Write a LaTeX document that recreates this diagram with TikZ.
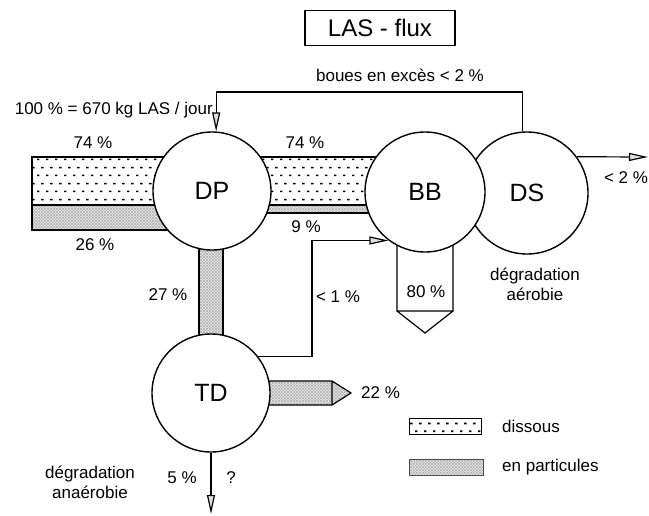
\documentclass[tikz,border=0pt]{standalone}
\usepackage{fontspec}
\setmainfont{Liberation Sans}
\usetikzlibrary{arrows.meta,patterns,calc}

% dissolved fraction: staggered rows of small dashes
\pgfdeclarepatternformonly{dissousdots}{\pgfpointorigin}{\pgfpoint{9pt}{16pt}}{\pgfpoint{9pt}{16pt}}{%
  \pgfpathrectangle{\pgfpoint{1.2pt}{3pt}}{\pgfpoint{2.6pt}{1.7pt}}%
  \pgfpathrectangle{\pgfpoint{5.7pt}{11pt}}{\pgfpoint{2.6pt}{1.7pt}}%
  \pgfusepath{fill}%
}
% particulate fraction: fine cross hatching
\pgfdeclarepatternformonly{particlehatch}{\pgfpoint{-1pt}{-1pt}}{\pgfpoint{4pt}{4pt}}{\pgfpoint{3pt}{3pt}}{%
  \pgfsetlinewidth{0.45pt}%
  \pgfpathmoveto{\pgfpoint{-0.1pt}{-0.1pt}}\pgfpathlineto{\pgfpoint{3.1pt}{3.1pt}}%
  \pgfpathmoveto{\pgfpoint{-0.1pt}{3.1pt}}\pgfpathlineto{\pgfpoint{3.1pt}{-0.1pt}}%
  \pgfusepath{stroke}%
}

\pgfdeclarelayer{background}
\pgfsetlayers{background,main}

\tikzset{
  every node/.style={font=\fontsize{17}{20}\selectfont, inner sep=0pt},
  station/.style={circle, draw, line width=1.4pt, fill=white, minimum size=#1, inner sep=0pt,
    font=\fontsize{25}{28}\selectfont},
  dissous/.style={pattern=dissousdots, pattern color=black},
  particules/.style={fill=gray!12, postaction={pattern=particlehatch, pattern color=gray!60}},
  bandline/.style={line width=1.2pt},
  flow/.style={line width=1.2pt, -{Triangle[length=19pt,width=8pt,fill=gray!25]}},
}

\begin{document}
\begin{tikzpicture}[x=1pt,y=-1pt]
\useasboundingbox (0,0) rectangle (649,515);

% title
\node[draw, line width=1.2pt, minimum width=150pt, minimum height=35pt,
  font=\fontsize{24}{28}\selectfont] (title) at (380,28) {LAS - flux};

% treatment stages
\node[station=122pt] (DS) at (527,193) {DS};
\node[station=120pt] (BB) at (425,192) {BB};
\node[station=118pt] (DP) at (212,191) {DP};
\node[station=118pt] (TD) at (211,393) {TD};

% flow bands behind the stages
\begin{pgfonlayer}{background}
  % influent
  \fill[dissous] (32,157) rectangle (DP.center |- 0,205);
  \path[particules] (32,205) rectangle (DP.center |- 0,230);
  \draw[bandline] (DP.center |- 0,157) -- (32,157) -- (32,230) -- (DP.center |- 0,230);
  \draw[bandline] (32,205) -- (DP.center |- 0,205);
  % primary settling to biology
  \fill[dissous] (DP.center |- 0,157) rectangle (BB.center |- 0,205);
  \path[particules] (DP.center |- 0,205) rectangle (BB.center |- 0,213);
  \draw[bandline] (DP.center |- 0,157) -- (BB.center |- 0,157)
                  (DP.center |- 0,205) -- (BB.center |- 0,205)
                  (DP.center |- 0,213) -- (BB.center |- 0,213);
  % primary sludge to digester
  \path[particules] (199,191) rectangle (223,393);
  \draw[bandline] (199,191) -- (199,393) (223,191) -- (223,393);
  % digested sludge
  \path[particules] (TD.center |- 0,381) -- (332,381) -- (351,393) -- (332,405)
    -- (TD.center |- 0,405) -- cycle;
  \draw[bandline] (TD.center |- 0,381) -- (332,381) -- (351,393) -- (332,405)
    -- (TD.center |- 0,405) (332,381) -- (332,405);
  % degraded in biology
  \draw[bandline, fill=white] (397,200) -- (397,311) -- (453,311) -- (453,200)
    (397,311) -- (425,333) -- (453,311);
\end{pgfonlayer}

% excess sludge return
\draw[flow] (DS.94) |- (DP.86 |- 0,92) -- (DP.86);
% supernatant back to biology
\coordinate (riser) at (312,300);
\draw[flow] (TD.38) -| (riser) |- (BB.233);
% effluent
\coordinate (effluent) at (648,157);
\draw[flow] (DS.36) -- (effluent);
% anaerobic degradation
\coordinate (anaer) at (211,514);
\draw[flow] (TD.south) -- (anaer);

% labels
\node (lboues) at (400,75) {boues en excès < 2 \%};
\node[anchor=east] (lin) at (213,110) {100 \% = 670 kg LAS / jour};
\node (l74a) at (93,143) {74 \%};
\node (l74b) at (305,143) {74 \%};
\node (l26) at (95,245) {26 \%};
\node (l9) at (306,227) {9 \%};
\node (l27) at (168,295) {27 \%};
\node (l1) at (338,297) {< 1 \%};
\node (l80) at (426,292) {80 \%};
\node[align=center] (laer) at (535,284) {dégradation\\aérobie};
\node (l2) at (626,178) {< 2 \%};
\node[anchor=west] (l22) at (361,393) {22 \%};
\node[align=center] (lanaer) at (90,482) {dégradation\\anaérobie};
\node (l5) at (182,478) {5 \%};
\node (lq) at (231,478) {?};

% legend
\draw[dissous] (409,418) rectangle (481,434);
\draw[line width=0.8pt] (409,418) rectangle (481,434);
\path[particules] (409,459) rectangle (483,475);
\draw[line width=0.6pt, gray!60!black] (409,459) rectangle (483,475);
\node[anchor=west] (kdis) at (502,426) {dissous};
\node[anchor=west] (kpart) at (502,467) {en particules};
\end{tikzpicture}
\end{document}
